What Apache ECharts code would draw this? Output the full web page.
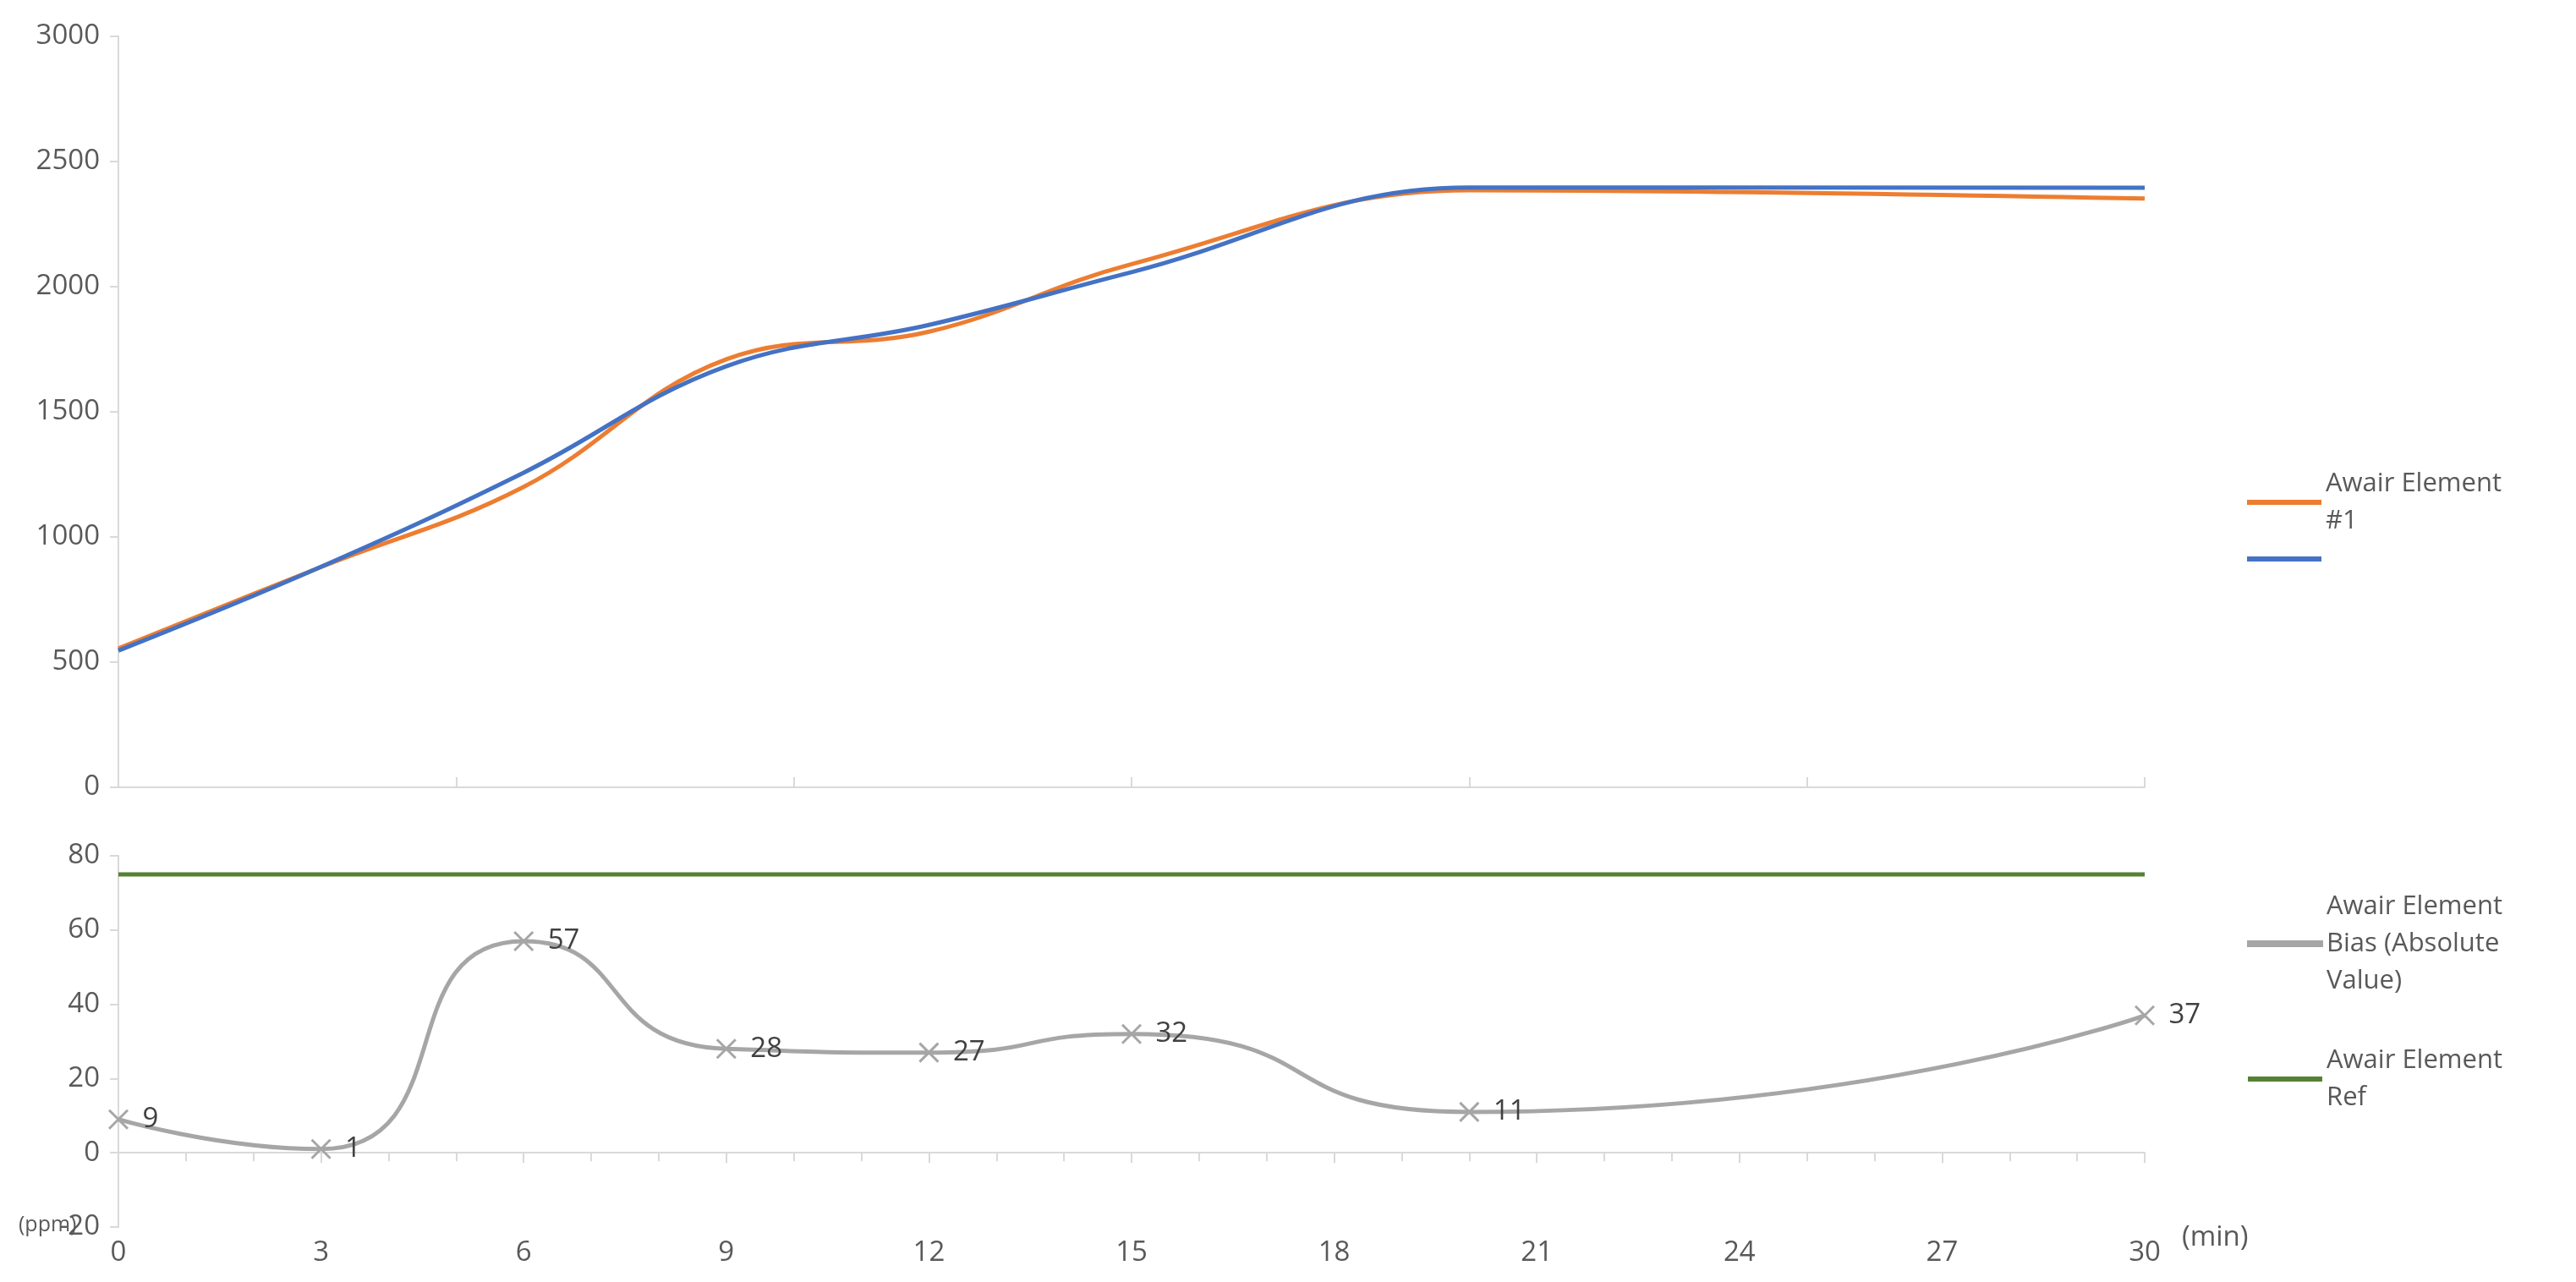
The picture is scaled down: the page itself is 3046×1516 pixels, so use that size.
<!DOCTYPE html>
<html><head><meta charset="utf-8">
<script src="https://cdn.jsdelivr.net/npm/echarts@6/dist/echarts.min.js"></script>
<style>html,body{margin:0;padding:0;background:#fff}#c{width:3046px;height:1516px}</style>
</head><body><div id="c"></div>
<script>
const times = [0, 3, 6, 9, 12, 15, 20, 30];
const element1 = [555, 880, 1200, 1710, 1820, 2090, 2385, 2352];
const element2 = [546, 881, 1257, 1682, 1847, 2058, 2396, 2395];
const bias = [9, 1, 57, 28, 27, 32, 11, 37];
const refValue = 75;
const bottomTicks = [0, 3, 6, 9, 12, 15, 18, 21, 24, 27, 30];

const pair = (a) => times.map((t, i) => [t, a[i]]);
const font = 'Open Sans, Noto Sans, sans-serif';
const gray = '#595959';
const cross = 'path://M0,0L10,10M10,0L0,10';
const chart = echarts.init(document.getElementById('c'));
chart.setOption({
  animation: false,
  textStyle: { fontFamily: font },
  grid: [
    { left: 140, right: 510, top: 43, height: 888 },
    { left: 140, right: 510, top: 1012, height: 439 }
  ],
  xAxis: [
    { gridIndex: 0, type: 'value', min: 0, max: 30, interval: 5,
      axisLine: { lineStyle: { color: '#d9d9d9', width: 2 } },
      axisTick: { show: true, length: 12, inside: true, lineStyle: { color: '#d9d9d9', width: 2 } },
      axisLabel: { show: false }, splitLine: { show: false } },
    { gridIndex: 1, type: 'value', min: 0, max: 30, interval: 3,
      axisLine: { onZero: true, lineStyle: { color: '#d9d9d9', width: 2 } },
      axisTick: { show: true, length: 12, lineStyle: { color: '#d9d9d9', width: 2 } },
      minorTick: { show: true, splitNumber: 3, length: 10, lineStyle: { color: '#d9d9d9', width: 2 } },
      axisLabel: { show: false }, splitLine: { show: false } },
    { gridIndex: 1, type: 'value', min: 0, max: 30, interval: 3, position: 'bottom',
      axisLine: { show: false, onZero: false }, axisTick: { show: false },
      axisLabel: { color: gray, fontSize: 33, margin: 14,
        customValues: bottomTicks }, splitLine: { show: false } }
  ],
  yAxis: [
    { gridIndex: 0, type: 'value', min: 0, max: 3000, interval: 500,
      axisLine: { show: true, lineStyle: { color: '#d9d9d9', width: 2 } },
      axisTick: { show: true, length: 10, lineStyle: { color: '#d9d9d9', width: 2 } },
      axisLabel: { color: gray, fontSize: 33, margin: 22, formatter: (v) => String(v) }, splitLine: { show: false } },
    { gridIndex: 1, type: 'value', min: -20, max: 80, interval: 20,
      axisLine: { show: true, lineStyle: { color: '#d9d9d9', width: 2 } },
      axisTick: { show: true, length: 10, lineStyle: { color: '#d9d9d9', width: 2 } },
      axisLabel: { color: gray, fontSize: 33, margin: 22, formatter: (v) => String(v) }, splitLine: { show: false } }
  ],
  legend: [
    { orient: 'vertical', left: 2652, top: 545, itemWidth: 88, itemHeight: 6, itemGap: 20,
      icon: 'rect', textStyle: { color: gray, fontSize: 31, lineHeight: 44 },
      data: ['Awair Element #1', ' '],
      formatter: (n) => n === 'Awair Element #1' ? 'Awair Element\n#1' : '' },
    { orient: 'vertical', left: 2652, top: 1045, itemWidth: 88, itemHeight: 6, itemGap: 50,
      icon: 'rect', textStyle: { color: gray, fontSize: 31, lineHeight: 44 },
      data: ['Awair Element Bias (Absolute Value)', 'Awair Element Ref'],
      formatter: (n) => n === 'Awair Element Ref' ? 'Awair Element\nRef' : 'Awair Element\nBias (Absolute\nValue)' }
  ],
  graphic: [
    { type: 'text', left: 2580, top: 1447, style: { text: '(min)', fontSize: 33, fill: gray, fontFamily: font } },
    { type: 'text', left: 22, top: 1436, style: { text: '(ppm)', fontSize: 25, fill: gray, fontFamily: font } }
  ],
  series: [
    { name: 'Awair Element #1', type: 'line', xAxisIndex: 0, yAxisIndex: 0, smooth: 0.4,
      showSymbol: false, data: pair(element1), itemStyle: { color: '#ed7d31' }, lineStyle: { width: 5, color: '#ed7d31' } },
    { name: ' ', type: 'line', xAxisIndex: 0, yAxisIndex: 0, smooth: 0.4,
      showSymbol: false, data: pair(element2), itemStyle: { color: '#4472c4' }, lineStyle: { width: 5, color: '#4472c4' } },
    { name: 'Awair Element Bias (Absolute Value)', type: 'line', xAxisIndex: 1, yAxisIndex: 1, smooth: 0.6,
      symbol: cross, symbolSize: 22, data: pair(bias),
      itemStyle: { color: '#a6a6a6', borderColor: '#a6a6a6', borderWidth: 3 },
      lineStyle: { width: 5, color: '#a6a6a6' },
      label: { show: true, position: 'right', distance: 16, color: '#404040', fontSize: 33 } },
    { name: 'Awair Element Ref', type: 'line', xAxisIndex: 1, yAxisIndex: 1, showSymbol: false,
      data: [[0, refValue], [30, refValue]], itemStyle: { color: '#548235' }, lineStyle: { width: 5, color: '#548235' } }
  ]
});
</script></body></html>
